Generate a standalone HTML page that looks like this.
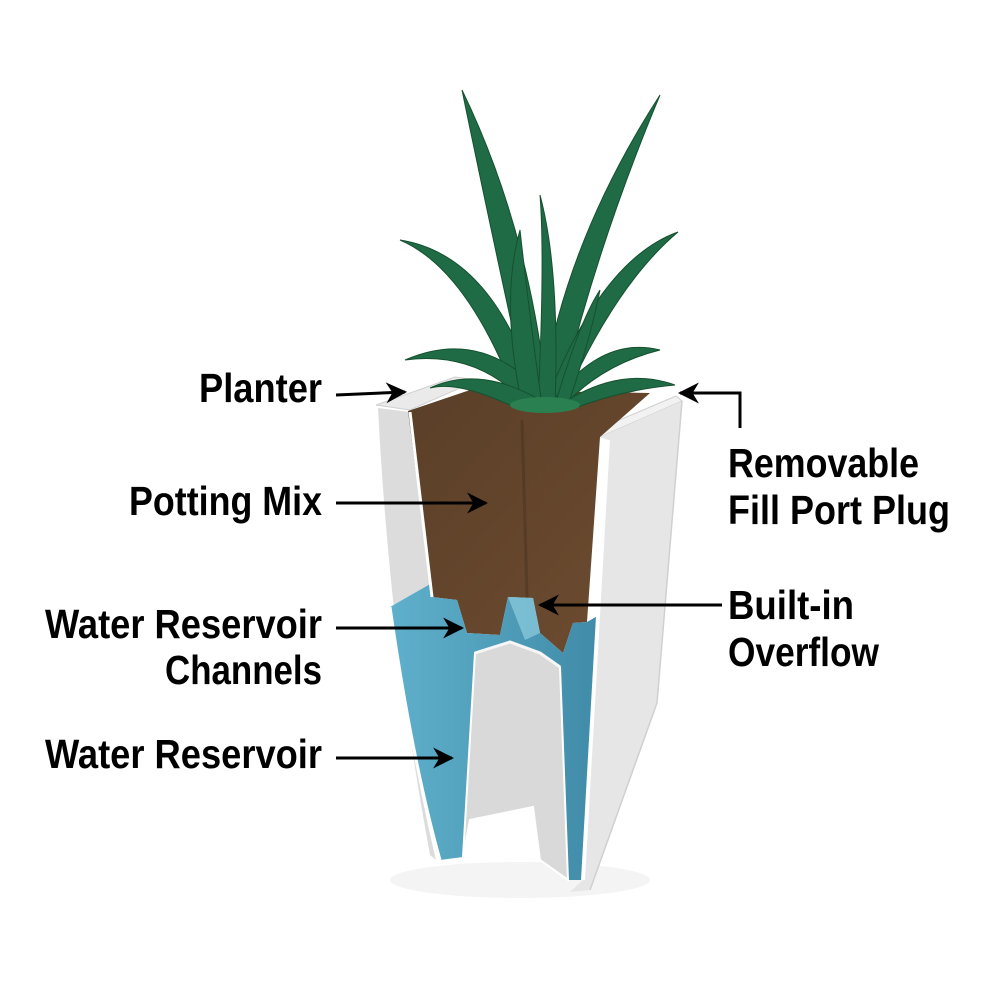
<!DOCTYPE html>
<html><head><meta charset="utf-8"><style>html,body{margin:0;padding:0;background:#fff}svg{display:block}</style></head>
<body>
<svg width="1000" height="1000" viewBox="0 0 1000 1000" xmlns="http://www.w3.org/2000/svg">
<defs>
<marker id="ah" viewBox="0 0 10 10" refX="9" refY="5" markerWidth="7" markerHeight="7" orient="auto-start-reverse">
<path d="M0,0 L10,5 L0,10 L3,5 z" fill="#000"/></marker>
<linearGradient id="soil" x1="0" y1="0" x2="1" y2="1"><stop offset="0" stop-color="#5a3f28"/><stop offset="1" stop-color="#6e4c30"/></linearGradient>
<linearGradient id="wl" x1="0" y1="0" x2="1" y2="0"><stop offset="0" stop-color="#5fb0cc"/><stop offset="1" stop-color="#3f8aa6"/></linearGradient>
</defs>
<ellipse cx="520" cy="880" rx="130" ry="18" fill="#f4f4f4"/>
<path d="M378,408 L410,412 L432,597 L390,607 Q412,760 436,860 L430,855 Q390,640 378,408 z" fill="#dcdcdc"/>
<path d="M376,405 L455,377 L478,380 L410,410 z" fill="#eaeaea" stroke="#cfcfcf" stroke-width="1"/>
<path d="M600,437 L682,401 L676,396 L596,430 z" fill="#f2f2f2" stroke="#cfcfcf" stroke-width="1"/>
<path d="M408,411 L470,390 L650,393 L600,437 L587,622 L573,623 L563,653 L540,633 L533,598 L508,597 L500,635 L467,633 L457,600 L432,597 z" fill="url(#soil)"/>
<path d="M522,420 L528,630" stroke="#4a3220" stroke-width="3" opacity="0.5"/>
<path d="M390,607 L432,583 L432,597 L457,600 L467,633 L500,635 L508,597 L533,598 L540,633 L563,653 L573,623 L587,622 L608,610 L600,660 L583,880 L568,880 L560,667 L540,653 L510,642 L475,653 L463,857 L440,860 Q412,760 390,607 z" fill="url(#wl)"/>
<path d="M508,597 L533,598 L540,633 L525,640 z" fill="#8fcde0" opacity="0.7"/>
<path d="M475,653 L510,642 L540,653 L560,667 L568,880 L540,860 L533,807 L470,820 L463,857 z" fill="#d9d9d9" stroke="#fff" stroke-width="2"/>
<path d="M475,653 L510,642 L540,653 L560,667" fill="none" stroke="#f6f6f6" stroke-width="3"/>
<path d="M410,412 L432,597" stroke="#fff" stroke-width="3"/>
<path d="M390,607 Q412,760 440,860" stroke="#fff" stroke-width="3" fill="none"/>
<path d="M600,437 L682,401 L657,703 L590,890 L570,892 L583,880 L608,440 z" fill="#e6e6e6"/>
<path d="M608,440 L583,880" stroke="#fff" stroke-width="4"/>
<path d="M682,401 L657,703 L590,890" stroke="#d0d0d0" stroke-width="1.5" fill="none"/>
<g fill="#1f6b45" stroke="#15512f" stroke-width="1">
<path d="M530,408 Q495,250 462,90 Q530,230 548,405 z"/>
<path d="M540,408 Q560,250 660,95 Q595,250 558,408 z"/>
<path d="M520,408 Q470,270 400,240 Q495,255 538,400 z"/>
<path d="M545,405 Q600,260 678,232 Q615,285 562,405 z"/>
<path d="M530,408 Q480,350 405,360 Q485,325 548,400 z"/>
<path d="M550,405 Q600,335 660,350 Q600,365 562,408 z"/>
<path d="M538,405 Q545,260 540,195 Q560,270 555,405 z"/>
<path d="M522,405 Q500,300 520,230 Q530,320 542,405 z"/>
<path d="M555,405 Q580,320 600,290 Q590,340 568,405 z"/>
<path d="M520,410 Q460,380 430,388 Q480,365 540,400 z"/>
<path d="M560,405 Q620,365 675,385 Q620,390 570,410 z"/>
</g>
<ellipse cx="545" cy="405" rx="35" ry="8" fill="#2a8050"/>
<g stroke="#000" stroke-width="3" fill="none" marker-end="url(#ah)">
<line x1="336" y1="395" x2="405" y2="392"/>
<line x1="336" y1="503" x2="486" y2="503"/>
<line x1="336" y1="628" x2="462" y2="628"/>
<line x1="336" y1="758" x2="452" y2="758"/>
<line x1="722" y1="605" x2="540" y2="605"/>
<polyline points="740,428 740,393 680,393"/>
</g>
<g font-family="'Liberation Sans Narrow','Liberation Sans',sans-serif" font-weight="bold" font-size="41" fill="#000">
<text x="322" y="402" text-anchor="end" textLength="123" lengthAdjust="spacingAndGlyphs">Planter</text>
<text x="322" y="515" text-anchor="end" textLength="193" lengthAdjust="spacingAndGlyphs">Potting Mix</text>
<text x="322" y="638" text-anchor="end" textLength="277" lengthAdjust="spacingAndGlyphs">Water Reservoir</text>
<text x="322" y="684" text-anchor="end" textLength="157" lengthAdjust="spacingAndGlyphs">Channels</text>
<text x="322" y="768" text-anchor="end" textLength="277" lengthAdjust="spacingAndGlyphs">Water Reservoir</text>
<text x="728" y="477" textLength="191" lengthAdjust="spacingAndGlyphs">Removable</text>
<text x="728" y="524" textLength="222" lengthAdjust="spacingAndGlyphs">Fill Port Plug</text>
<text x="728" y="619" textLength="126" lengthAdjust="spacingAndGlyphs">Built-in</text>
<text x="728" y="666" textLength="151" lengthAdjust="spacingAndGlyphs">Overflow</text>
</g>
</svg>
</body></html>
